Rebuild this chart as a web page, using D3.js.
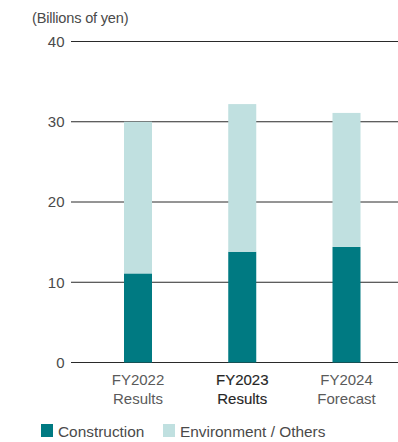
<!DOCTYPE html>
<html>
<head>
<meta charset="utf-8">
<script src="https://cdn.jsdelivr.net/npm/d3@7"></script>
<style>
  html, body { margin: 0; padding: 0; background: #fff; }
  svg { display: block; font-family: "Liberation Sans", Arial, Helvetica, sans-serif; }
</style>
</head>
<body>
<svg id="chart" width="398" height="442"></svg>
<script>
// Net sales by segment (billions of yen)
const categories = ["FY2022", "FY2023", "FY2024"];
const categorySubLabels = ["Results", "Results", "Forecast"];
const construction = [11.1, 13.8, 14.4];
const environmentOthers = [18.9, 18.4, 16.7];
const seriesNames = ["Construction", "Environment / Others"];
const seriesColors = ["#007a82", "#c0e0e0"];
const yTicks = [0, 10, 20, 30, 40];
const highlighted = "FY2023";

const svg = d3.select("#chart");

const y = d3.scaleLinear().domain([0, 40]).range([362.5, 41.5]);
const x = d3.scalePoint().domain(categories).range([138, 346.5]);
const barWidth = 28;
const gridLeft = 71, gridRight = 398;

// Horizontal gridlines
svg.append("g")
  .selectAll("line")
  .data(yTicks)
  .join("line")
  .attr("x1", gridLeft).attr("x2", gridRight)
  .attr("y1", d => y(d)).attr("y2", d => y(d))
  .attr("stroke", "#2a2a2a").attr("stroke-width", 1);

// Y tick labels
svg.append("g")
  .selectAll("text")
  .data(yTicks)
  .join("text")
  .attr("x", 64.5)
  .attr("y", d => y(d))
  .attr("dy", "0.36em")
  .attr("text-anchor", "end")
  .attr("font-size", 15)
  .attr("fill", "#4a4a4a")
  .text(d => d);

// Unit label
svg.append("text")
  .attr("x", 32).attr("y", 23)
  .attr("font-size", 14.6)
  .attr("fill", "#4a4a4a")
  .attr("letter-spacing", -0.2)
  .text("(Billions of yen)");

// Stacked bars
const table = categories.map((c, i) => ({
  category: c,
  [seriesNames[0]]: construction[i],
  [seriesNames[1]]: environmentOthers[i]
}));
const stacked = d3.stack().keys(seriesNames)(table);

svg.append("g")
  .selectAll("g")
  .data(stacked)
  .join("g")
  .attr("fill", (d, i) => seriesColors[i])
  .selectAll("rect")
  .data(d => d)
  .join("rect")
  .attr("x", d => x(d.data.category) - barWidth / 2)
  .attr("width", barWidth)
  .attr("y", d => y(d[1]))
  .attr("height", d => y(d[0]) - y(d[1]));

// Category labels (current year slightly emphasised)
const labels = svg.append("g")
  .selectAll("text")
  .data(categories)
  .join("text")
  .attr("x", d => x(d))
  .attr("y", 385)
  .attr("text-anchor", "middle")
  .attr("font-size", 15)
  .attr("fill", d => d === highlighted ? "#262626" : "#5a5a5a")
  .attr("stroke", d => d === highlighted ? "#262626" : "none")
  .attr("stroke-width", d => d === highlighted ? 0.15 : 0);
labels.append("tspan")
  .attr("x", d => x(d))
  .text(d => d);
labels.append("tspan")
  .attr("x", d => x(d))
  .attr("dy", 19)
  .text((d, i) => categorySubLabels[i]);

// Legend
const legendItems = [
  { name: seriesNames[0], color: seriesColors[0], x: 41 },
  { name: seriesNames[1], color: seriesColors[1], x: 163 }
];
const legend = svg.append("g")
  .selectAll("g")
  .data(legendItems)
  .join("g")
  .attr("transform", d => `translate(${d.x},424)`);
legend.append("rect")
  .attr("width", 12).attr("height", 13)
  .attr("fill", d => d.color);
legend.append("text")
  .attr("x", 17).attr("y", 12.5)
  .attr("font-size", 15.4)
  .attr("fill", "#4a4a4a")
  .text(d => d.name);
</script>
</body>
</html>
